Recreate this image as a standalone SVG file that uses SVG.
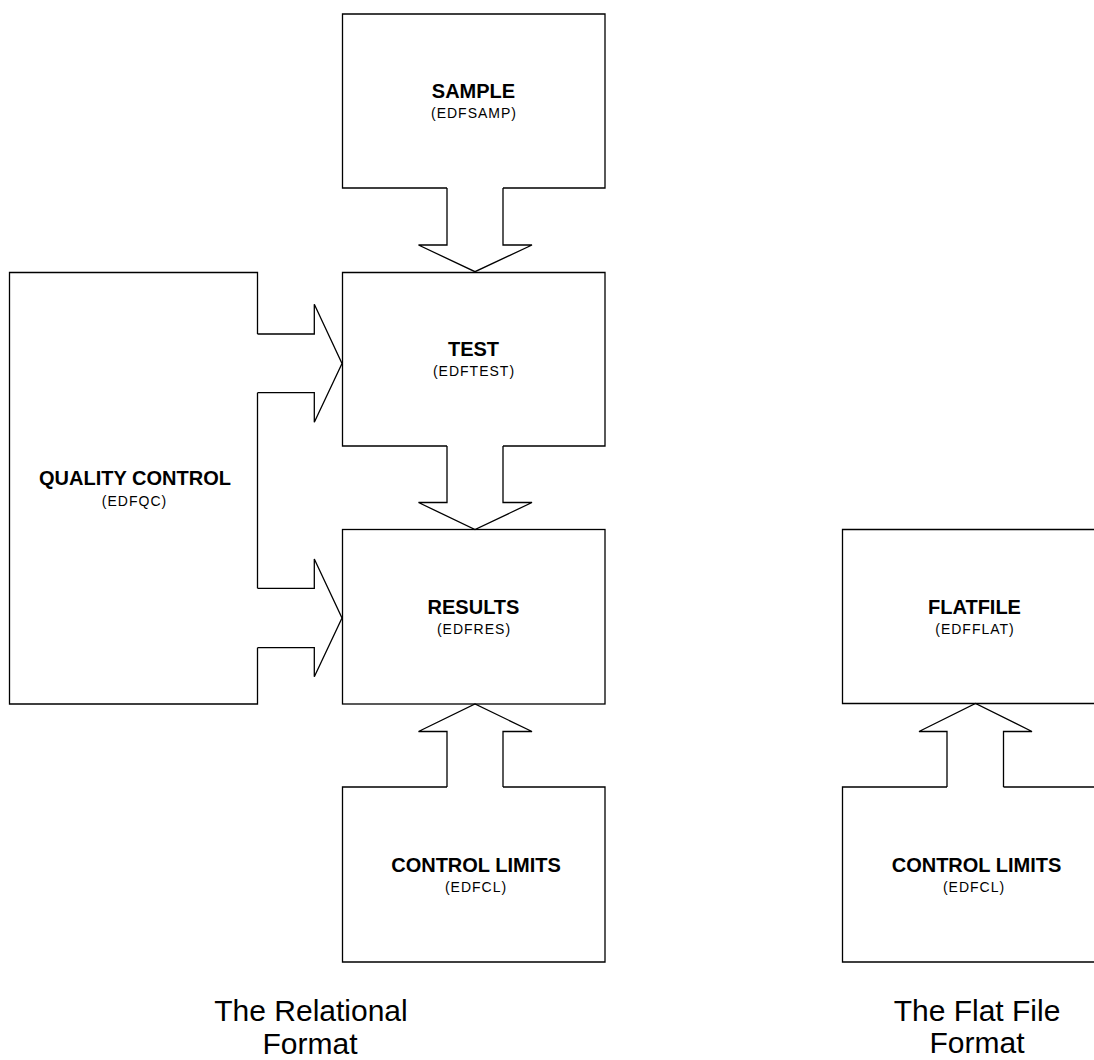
<svg xmlns="http://www.w3.org/2000/svg" width="1094" height="1060" viewBox="0 0 1094 1060">
<style>
.box{fill:none;stroke:#000;stroke-width:1.3;stroke-linejoin:miter}
.arr{fill:none;stroke:#000;stroke-width:1.3;stroke-linejoin:miter}
.t{font-family:"Liberation Sans",Arial,sans-serif;font-weight:bold;font-size:20px;fill:#000;text-anchor:middle}
.s{font-family:"Liberation Sans",Arial,sans-serif;font-size:14px;letter-spacing:1px;fill:#000;text-anchor:middle}
.cap{font-family:"Liberation Sans",Arial,sans-serif;font-size:30px;fill:#000;text-anchor:middle}
</style>
<rect x="0" y="0" width="1094" height="1060" fill="#fff"/>
<g id="sample">
<path class="box" d="M447,188 H342.5 V14 H605 V188 H503"/>
<text class="t" x="473.5" y="98">SAMPLE</text>
<text class="s" x="474" y="118">(EDFSAMP)</text>
</g>
<g id="test">
<path class="box" d="M447,446 H342.5 V272.5 H605 V446 H503"/>
<text class="t" x="473.5" y="356">TEST</text>
<text class="s" x="474" y="376">(EDFTEST)</text>
</g>
<g id="results">
<rect class="box" x="342.5" y="529.5" width="262.5" height="174.5"/>
<text class="t" x="473.5" y="614">RESULTS</text>
<text class="s" x="474" y="634">(EDFRES)</text>
</g>
<g id="quality-control">
<path class="box" d="M257.5,334 V272.5 H9.5 V704 H257.5 V647.7 M257.5,392.7 V588.3"/>
<text class="t" x="135" y="485">QUALITY CONTROL</text>
<text class="s" x="134.5" y="506">(EDFQC)</text>
</g>
<g id="control-limits">
<path class="box" d="M447,787 H342.5 V962 H605 V787 H503"/>
<text class="t" x="476" y="872">CONTROL LIMITS</text>
<text class="s" x="476" y="892">(EDFCL)</text>
</g>
<g id="flatfile">
<path class="box" d="M1106,529.5 H842.5 V703.5 H1106"/>
<text class="t" x="974.5" y="614">FLATFILE</text>
<text class="s" x="975" y="634">(EDFFLAT)</text>
</g>
<g id="flat-control-limits">
<path class="box" d="M947,787 H842.5 V962 H1106 M1106,787 H1003.5"/>
<text class="t" x="976.5" y="872">CONTROL LIMITS</text>
<text class="s" x="974" y="892">(EDFCL)</text>
</g>
<g id="connectors">
<path class="arr" d="M447,188 V245 H418.5 L475,271.7 L532,245 H503 V188"/>
<path class="arr" d="M447,446 V502.5 H418.5 L475,529.5 L532,502.5 H503 V446"/>
<path class="arr" d="M447,787 V731.5 H418.5 L475,704 L532,731.5 H503 V787"/>
<path class="arr" d="M257.5,334 H314.3 V304.3 L342,363.5 L314.3,422.3 V392.7 H257.5"/>
<path class="arr" d="M257.5,588.3 H314.3 V559 L342,618 L314.3,676.7 V647.7 H257.5"/>
<path class="arr" d="M947,787 V731.5 H919 L975.5,703.5 L1032,731.5 H1003.5 V787"/>
</g>
<g id="captions">
<text class="cap" x="311" y="1021">The Relational</text>
<text class="cap" x="310" y="1054">Format</text>
<text class="cap" x="977" y="1021">The Flat File</text>
<text class="cap" x="977" y="1053">Format</text>
</g>
</svg>
